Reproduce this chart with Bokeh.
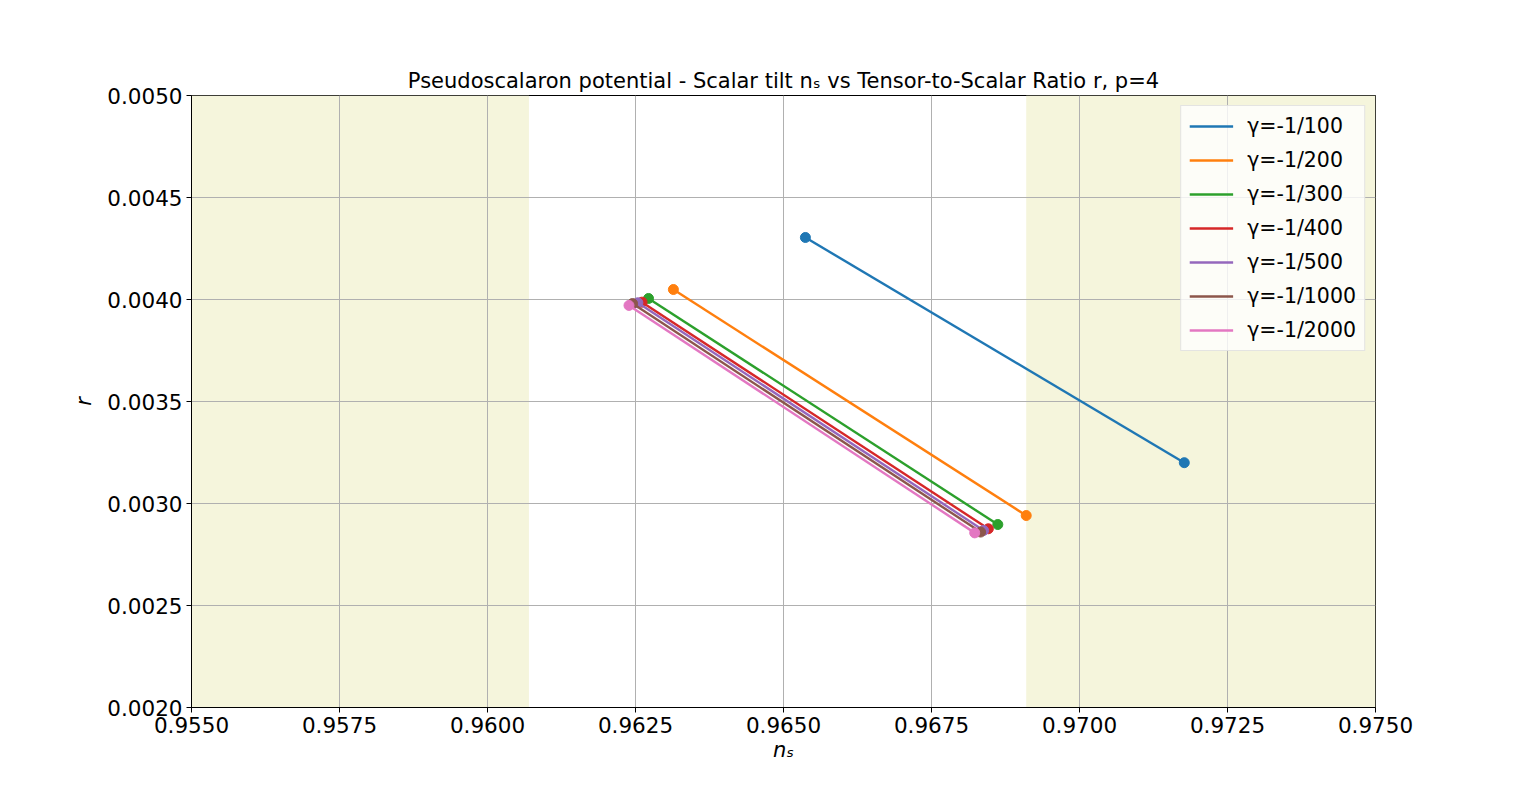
from bokeh.plotting import figure
from bokeh.models import ColumnDataSource, Legend, LegendItem, FixedTicker, NumeralTickFormatter, Range1d
from bokeh.embed import file_html
from bokeh.resources import INLINE

gammas = ["γ=-1/100", "γ=-1/200", "γ=-1/300", "γ=-1/400", "γ=-1/500", "γ=-1/1000", "γ=-1/2000"]
ns_start = [0.96537, 0.96314, 0.96272, 0.96261, 0.96254, 0.96245, 0.96239]
r_start = [0.004304, 0.004049, 0.004005, 0.003987, 0.003984, 0.003980, 0.003971]
ns_end = [0.97177, 0.96910, 0.96862, 0.96846, 0.96838, 0.96833, 0.96823]
r_end = [0.003200, 0.002941, 0.002897, 0.002876, 0.002868, 0.002860, 0.002856]
colors = ["#1f77b4", "#ff7f0e", "#2ca02c", "#d62728", "#9467bd", "#8c564b", "#e377c2"]

excluded_left = [0.955, 0.9607]
excluded_right = [0.9691, 0.975]
x_ticks = [0.955, 0.9575, 0.96, 0.9625, 0.965, 0.9675, 0.97, 0.9725, 0.975]
y_ticks = [0.002, 0.0025, 0.003, 0.0035, 0.004, 0.0045, 0.005]

p = figure(width=1520, height=786, output_backend="svg", toolbar_location=None,
           x_range=Range1d(0.955, 0.975), y_range=Range1d(0.002, 0.005),
           min_border_left=191, min_border_right=145, min_border_top=95, min_border_bottom=79,
           title="Pseudoscalaron potential - Scalar tilt nₛ vs Tensor-to-Scalar Ratio r, p=4")
p.title.align = "center"
p.title.text_font = "DejaVu Sans"
p.title.text_font_size = "21px"
p.title.text_font_style = "normal"
p.title.text_color = "black"
p.title.offset = 0
p.title.standoff = 6

p.background_fill_color = "white"
p.border_fill_color = "white"
p.outline_line_color = "black"
p.outline_line_width = 1

shade = ColumnDataSource(dict(left=[excluded_left[0], excluded_right[0]],
                              right=[excluded_left[1], excluded_right[1]],
                              bottom=[0.002, 0.002], top=[0.005, 0.005]))
p.quad(left="left", right="right", bottom="bottom", top="top", source=shade,
       fill_color="#F5F5DC", line_color=None, level="image")

items = []
for i in range(len(gammas)):
    src = ColumnDataSource(dict(x=[ns_start[i], ns_end[i]], y=[r_start[i], r_end[i]]))
    ln = p.line("x", "y", source=src, line_color=colors[i], line_width=2.4)
    p.scatter("x", "y", source=src, size=10, fill_color=colors[i], line_color=colors[i])
    items.append(LegendItem(label=gammas[i], renderers=[ln]))

legend = Legend(items=items, location="top_right", label_text_font="DejaVu Sans",
                label_text_font_size="20.5px", label_text_color="black",
                glyph_width=44, glyph_height=24, label_height=24,
                spacing=10, padding=8, margin=10, border_line_color="#cccccc",
                background_fill_alpha=0.8, label_standoff=14)
p.add_layout(legend, "center")

for ax in (p.xaxis, p.yaxis):
    ax.major_label_text_font = "DejaVu Sans"
    ax.major_label_text_font_size = "21.5px"
    ax.major_label_text_color = "black"
    ax.axis_label_text_font = "DejaVu Sans"
    ax.axis_label_text_font_size = "21px"
    ax.axis_label_text_font_style = "italic"
    ax.axis_label_text_color = "black"
    ax.major_tick_out = 5
    ax.major_tick_in = 0
    ax.minor_tick_out = 0
    ax.minor_tick_in = 0
    ax.axis_line_color = "black"
    ax.major_tick_line_color = "black"
    ax.major_label_standoff = 4

p.xaxis.ticker = FixedTicker(ticks=x_ticks)
p.yaxis.ticker = FixedTicker(ticks=y_ticks)
p.xaxis.formatter = NumeralTickFormatter(format="0.0000")
p.yaxis.formatter = NumeralTickFormatter(format="0.0000")
p.xaxis.axis_label = "nₛ"
p.yaxis.axis_label = "r"
p.xaxis.axis_label_standoff = 2
p.yaxis.axis_label_standoff = 8

p.xgrid.ticker = FixedTicker(ticks=x_ticks)
p.ygrid.ticker = FixedTicker(ticks=y_ticks)
for g in (p.xgrid, p.ygrid):
    g.grid_line_color = "#b0b0b0"
    g.grid_line_width = 1

open("out.html", "w").write(file_html(p, INLINE))
